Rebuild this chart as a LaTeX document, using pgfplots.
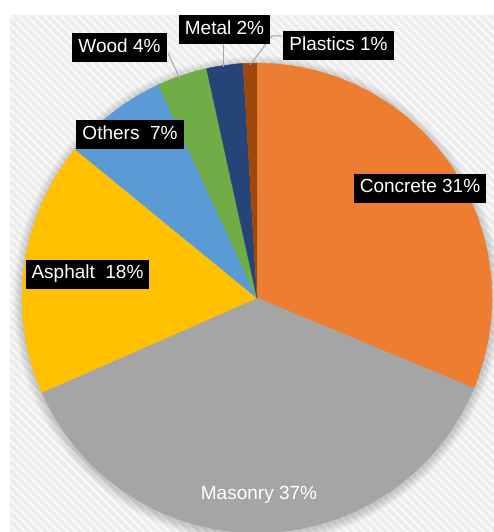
\documentclass[border=0pt]{standalone}
\usepackage{pgfplots}
\pgfplotsset{compat=1.18}
\usepgfplotslibrary{polar}
\usetikzlibrary{patterns.meta}
\usepackage{fontspec}
\setmainfont{Liberation Sans}
\definecolor{concrete}{HTML}{ED7D31}
\definecolor{masonry}{HTML}{A5A5A5}
\definecolor{asphalt}{HTML}{FFC000}
\definecolor{others}{HTML}{5B9BD5}
\definecolor{wood}{HTML}{70AD47}
\definecolor{metal}{HTML}{264478}
\definecolor{plastics}{HTML}{9E480E}
\definecolor{bgc}{HTML}{ECECEC}
\definecolor{leader}{HTML}{A6A6A6}
\begin{document}
\begin{tikzpicture}
\useasboundingbox (0pt,0pt) rectangle (494pt,-532pt);
\clip (0pt,0pt) rectangle (494pt,-532pt);
\begin{scope}[x=1pt,y=-1pt]
\fill[white] (0,0) rectangle (494,532);
\fill[bgc] (10,15) rectangle (494,532);
\fill[pattern={Lines[angle=-45,distance=6pt,line width=2.2pt]},pattern color=white!70!bgc] (10,15) rectangle (494,532);
% soft shadow
\foreach \k in {1,...,9} {
  \fill[black,opacity=0.02] (257,300) circle ({235pt+\k pt});
}
\end{scope}
\begin{polaraxis}[at={(257pt,-298pt)},anchor=center,scale only axis,
  width=470pt,height=470pt,hide axis,ymin=0,ymax=1,xmin=0,xmax=360,clip=false]
% Concrete 31.3%
\addplot[fill=concrete,draw=concrete,line width=0.4pt] coordinates {(0,0) (90,1) (85,1) (80,1) (75,1) (70,1) (65,1) (60,1) (55,1) (50,1) (45,1) (40,1) (35,1) (30,1) (25,1) (20,1) (15,1) (10,1) (5,1) (0,1) (-5,1) (-10,1) (-15,1) (-20,1) (-22.6,1)};
% Masonry 37.1%
\addplot[fill=masonry,draw=masonry,line width=0.4pt] coordinates {(0,0) (-22.6,1) (-25,1) (-30,1) (-35,1) (-40,1) (-45,1) (-50,1) (-55,1) (-60,1) (-65,1) (-70,1) (-75,1) (-80,1) (-85,1) (-90,1) (-95,1) (-100,1) (-105,1) (-110,1) (-115,1) (-120,1) (-125,1) (-130,1) (-135,1) (-140,1) (-145,1) (-150,1) (-155,1) (-156.3,1)};
% Asphalt 17.5%
\addplot[fill=asphalt,draw=asphalt,line width=0.4pt] coordinates {(0,0) (-156.3,1) (-160,1) (-165,1) (-170,1) (-175,1) (-180,1) (-185,1) (-190,1) (-195,1) (-200,1) (-205,1) (-210,1) (-215,1) (-219.3,1)};
% Others 7.2%
\addplot[fill=others,draw=others,line width=0.4pt] coordinates {(0,0) (-219.3,1) (-220,1) (-225,1) (-230,1) (-235,1) (-240,1) (-245.2,1)};
% Wood 3.4%
\addplot[fill=wood,draw=wood,line width=0.4pt] coordinates {(0,0) (-245.2,1) (-250,1) (-255,1) (-257.6,1)};
% Metal 2.5%
\addplot[fill=metal,draw=metal,line width=0.4pt] coordinates {(0,0) (-257.6,1) (-260,1) (-265,1) (-266.6,1)};
% Plastics 0.9%
\addplot[fill=plastics,draw=plastics,line width=0.4pt] coordinates {(0,0) (-266.6,1) (-270,1)};
\end{polaraxis}
\begin{scope}[x=1pt,y=-1pt,
  lbl/.style={fill=black,text=white,font=\fontsize{19}{22}\selectfont,
    minimum height=29pt,inner xsep=6pt,inner ysep=0pt,
    text height=13.6pt,text depth=4pt,anchor=center}]
% leader lines
\draw[leader,line width=1pt] (168,53) -- (180,79);
\draw[leader,line width=1pt] (223,44) -- (223,67);
\draw[leader,line width=1pt] (282,36) -- (272,36) -- (250,65);
% labels
\node[lbl] at (420,188) {Concrete 31\%};
\node[text=white,font=\fontsize{19}{22}\selectfont,anchor=center] at (259,495) {Masonry 37\%};
\node[lbl] at (87.5,274) {Asphalt\ \ 18\%};
\node[lbl] at (130,134.5) {Others\ \ 7\%};
\node[lbl] at (119.5,48) {Wood 4\%};
\node[lbl] at (224.5,30) {Metal 2\%};
\node[lbl] at (338.5,45.5) {Plastics 1\%};
\end{scope}
\end{tikzpicture}
\end{document}
